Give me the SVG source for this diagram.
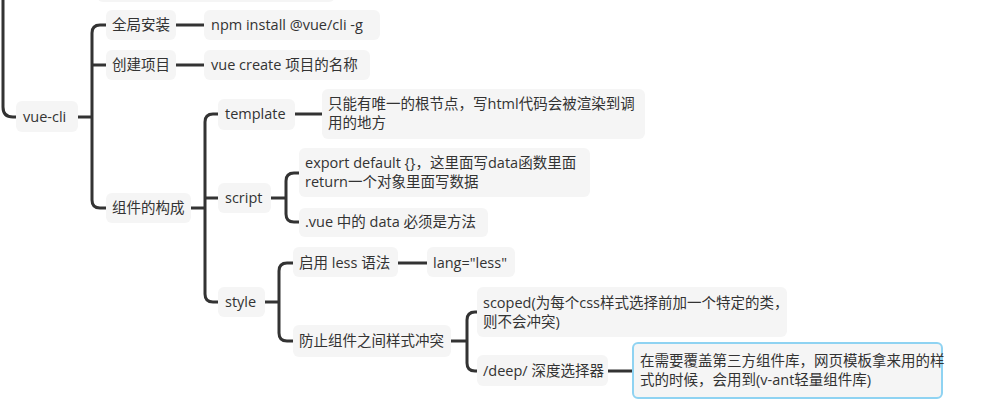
<svg xmlns="http://www.w3.org/2000/svg" width="992" height="407" viewBox="0 0 992 407">
<style>
.n{fill:#f5f5f5}
.t{font-family:"Open Sans","Noto Sans CJK SC",sans-serif;font-size:14.5px;fill:#333}
.c{fill:none;stroke:#333;stroke-width:3;stroke-linecap:butt}
.hl{fill:#f5f5f5;stroke:#8fd3f2;stroke-width:2}
</style>
<rect width="992" height="407" fill="#ffffff"/>
<g id="connectors">
<path class="c" d="M3 -5 V107 Q3 117 13 117 H16"/>
<path class="c" d="M78 117 H92"/>
<path class="c" d="M106 25 H100 Q92 25 92 33 V200 Q92 208 100 208 H106"/>
<path class="c" d="M92 65 H106"/>
<path class="c" d="M176 25 H204"/>
<path class="c" d="M176 65 H204"/>
<path class="c" d="M191 208 H205"/>
<path class="c" d="M218 114 H213 Q205 114 205 122 V294 Q205 302 213 302 H218"/>
<path class="c" d="M205 198 H218"/>
<path class="c" d="M295 114 H322"/>
<path class="c" d="M271 198 H286"/>
<path class="c" d="M299 173 H294 Q286 173 286 181 V214 Q286 222 294 222 H299"/>
<path class="c" d="M265 302 H279"/>
<path class="c" d="M293 263 H287 Q279 263 279 271 V333 Q279 341 287 341 H293"/>
<path class="c" d="M398 263 H427"/>
<path class="c" d="M451 341 H467"/>
<path class="c" d="M477 312 H475 Q467 312 467 320 V363 Q467 371 475 371 H477"/>
<path class="c" d="M608 371 H633"/>
</g>
<g id="top-cut"><rect class="n" x="97" y="-30" width="238" height="32" rx="6"/></g>
<g id="vue-cli"><rect class="n" x="16" y="101" width="62" height="31" rx="6"/><text class="t" x="23" y="122">vue-cli</text></g>
<g id="global-install"><rect class="n" x="106" y="10" width="70" height="30" rx="6"/><text class="t" x="112" y="30">全局安装</text></g>
<g id="npm"><rect class="n" x="204" y="10" width="176" height="30" rx="6"/><text class="t" x="211" y="30">npm install @vue/cli -g</text></g>
<g id="create"><rect class="n" x="106" y="50" width="70" height="30" rx="6"/><text class="t" x="112" y="70">创建项目</text></g>
<g id="vue-create"><rect class="n" x="204" y="50" width="166" height="30" rx="6"/><text class="t" x="211" y="70">vue create 项目的名称</text></g>
<g id="component"><rect class="n" x="106" y="193" width="85" height="30" rx="6"/><text class="t" x="112" y="213">组件的构成</text></g>
<g id="template"><rect class="n" x="218" y="99" width="77" height="31" rx="6"/><text class="t" x="225" y="119">template</text></g>
<g id="template-desc"><rect class="n" x="322" y="89" width="323" height="50" rx="6"/><text class="t" x="328" y="109">只能有唯一的根节点，写html代码会被渲染到调</text><text class="t" x="328" y="128">用的地方</text></g>
<g id="script"><rect class="n" x="218" y="183" width="53" height="30" rx="6"/><text class="t" x="225" y="203">script</text></g>
<g id="export"><rect class="n" x="299" y="148" width="291" height="49" rx="6"/><text class="t" x="305" y="168">export default {}，这里面写data函数里面</text><text class="t" x="305" y="187">return一个对象里面写数据</text></g>
<g id="vue-data"><rect class="n" x="299" y="208" width="189" height="29" rx="6"/><text class="t" x="305" y="227">.vue 中的 data 必须是方法</text></g>
<g id="style"><rect class="n" x="218" y="287" width="47" height="30" rx="6"/><text class="t" x="225" y="307">style</text></g>
<g id="less"><rect class="n" x="293" y="247" width="105" height="30" rx="6"/><text class="t" x="299" y="268">启用 less 语法</text></g>
<g id="lang"><rect class="n" x="427" y="247" width="88" height="30" rx="6"/><text class="t" x="433" y="268">lang="less"</text></g>
<g id="prevent"><rect class="n" x="293" y="325" width="158" height="32" rx="6"/><text class="t" x="299" y="346">防止组件之间样式冲突</text></g>
<g id="scoped"><rect class="n" x="477" y="287" width="310" height="50" rx="6"/><text class="t" x="483" y="308">scoped(为每个css样式选择前加一个特定的类，</text><text class="t" x="483" y="327">则不会冲突)</text></g>
<g id="deep"><rect class="n" x="477" y="355" width="131" height="31" rx="6"/><text class="t" x="483" y="376">/deep/ 深度选择器</text></g>
<g id="deep-desc"><rect class="hl" x="633" y="343" width="309" height="55" rx="5"/><text class="t" x="640" y="366">在需要覆盖第三方组件库，网页模板拿来用的样</text><text class="t" x="640" y="385">式的时候，会用到(v-ant轻量组件库)</text></g>
</svg>
